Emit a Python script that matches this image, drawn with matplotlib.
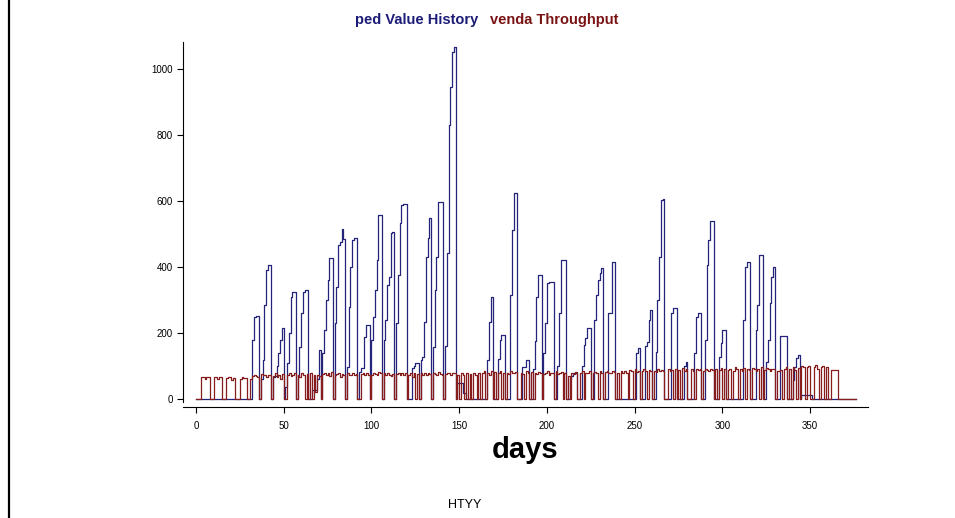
import numpy as np
import matplotlib
matplotlib.use("Agg")
import matplotlib.pyplot as plt
from matplotlib.lines import Line2D

# ---- data (daily values) ----
lead_days_ped = [0, 0]
lead_days_venda = [0, 0]

# each row = one week (7 days), starting at day 2
ped_weeks = [
    [0, 0, 0, 0, 0, 0, 0],
    [0, 0, 0, 0, 0, 0, 0],
    [0, 0, 0, 0, 0, 0, 0],
    [0, 0, 0, 0, 0, 0, 0],
    [0, 0, 180, 250, 252, 252, 0],
    [60, 118, 285, 391, 406, 406, 0],
    [68, 70, 100, 139, 180, 215, 0],
    [37, 109, 200, 310, 325, 325, 0],
    [73, 158, 260, 325, 330, 330, 0],
    [0, 27, 27, 27, 60, 150, 0],
    [139, 209, 300, 360, 427, 427, 0],
    [230, 340, 467, 477, 515, 485, 0],
    [98, 280, 400, 482, 487, 487, 0],
    [83, 94, 94, 189, 224, 224, 0],
    [179, 250, 330, 421, 558, 558, 0],
    [179, 239, 345, 371, 503, 507, 0],
    [230, 376, 533, 588, 590, 590, 0],
    [0, 0, 94, 100, 109, 109, 0],
    [118, 128, 234, 430, 487, 548, 0],
    [158, 330, 430, 597, 597, 597, 0],
    [160, 442, 830, 946, 1052, 1067, 0],
    [48, 48, 48, 18, 18, 0, 0],
    [0, 0, 0, 0, 0, 0, 0],
    [0, 0, 0, 118, 234, 310, 0],
    [0, 0, 120, 179, 194, 194, 0],
    [0, 0, 315, 512, 623, 623, 0],
    [0, 0, 98, 98, 118, 118, 0],
    [0, 90, 176, 310, 376, 376, 0],
    [139, 230, 351, 355, 355, 355, 0],
    [0, 100, 260, 421, 421, 421, 0],
    [0, 60, 70, 80, 80, 0, 0],
    [0, 100, 165, 185, 215, 215, 0],
    [0, 239, 315, 360, 382, 397, 0],
    [0, 0, 260, 260, 416, 416, 0],
    [0, 0, 0, 0, 0, 0, 0],
    [0, 0, 0, 0, 139, 155, 0],
    [0, 0, 160, 172, 240, 270, 0],
    [0, 143, 300, 431, 603, 606, 0],
    [0, 0, 0, 260, 275, 275, 0],
    [0, 0, 0, 100, 112, 0, 0],
    [0, 0, 140, 250, 260, 260, 0],
    [0, 178, 405, 481, 541, 541, 0],
    [0, 0, 127, 170, 209, 209, 0],
    [0, 0, 0, 0, 0, 0, 0],
    [0, 0, 240, 400, 415, 415, 0],
    [0, 0, 209, 285, 436, 436, 0],
    [0, 112, 178, 290, 370, 400, 0],
    [0, 0, 190, 190, 190, 190, 0],
    [0, 0, 58, 97, 124, 133, 0],
    [12, 12, 12, 12, 12, 12, 0],
    [0, 0, 0, 0, 0, 0, 0],
    [0, 0, 0, 0, 0, 0, 0],
    [0, 0, 0, 0, 0, 0, 0],
]

venda_weeks = [
    [0, 66, 66, 62, 66, 66, 0],
    [0, 66, 68, 62, 66, 66, 0],
    [0, 64, 66, 66, 58, 64, 0],
    [0, 0, 62, 66, 64, 64, 0],
    [0, 62, 70, 72, 70, 68, 0],
    [75, 72, 74, 68, 72, 74, 0],
    [70, 78, 66, 74, 60, 76, 0],
    [0, 72, 80, 70, 74, 78, 0],
    [74, 66, 78, 72, 0, 76, 0],
    [80, 0, 72, 20, 74, 70, 0],
    [76, 80, 72, 78, 70, 82, 0],
    [72, 76, 80, 68, 76, 74, 0],
    [80, 74, 72, 78, 74, 76, 0],
    [0, 76, 80, 72, 78, 72, 0],
    [74, 80, 76, 72, 82, 78, 0],
    [78, 72, 80, 74, 70, 76, 0],
    [76, 80, 72, 80, 74, 78, 0],
    [74, 78, 66, 80, 0, 76, 0],
    [78, 74, 80, 72, 80, 76, 0],
    [80, 76, 72, 82, 76, 74, 0],
    [76, 78, 80, 72, 78, 80, 0],
    [72, 0, 78, 74, 0, 78, 0],
    [76, 0, 80, 72, 0, 80, 0],
    [78, 86, 0, 80, 74, 84, 0],
    [82, 0, 80, 86, 0, 78, 0],
    [80, 76, 84, 78, 80, 82, 0],
    [0, 80, 76, 0, 84, 78, 0],
    [82, 0, 78, 76, 82, 80, 0],
    [76, 80, 84, 72, 80, 78, 0],
    [84, 76, 80, 82, 0, 78, 0],
    [70, 0, 80, 76, 82, 0, 0],
    [80, 84, 0, 78, 80, 86, 0],
    [78, 82, 80, 0, 84, 80, 0],
    [82, 86, 78, 80, 84, 82, 0],
    [80, 0, 84, 78, 86, 80, 0],
    [88, 84, 0, 90, 82, 86, 0],
    [84, 90, 86, 0, 88, 84, 0],
    [86, 82, 90, 84, 88, 86, 0],
    [0, 90, 84, 88, 0, 92, 0],
    [88, 0, 94, 86, 90, 0, 0],
    [90, 86, 0, 92, 88, 90, 0],
    [86, 92, 88, 84, 90, 88, 0],
    [92, 0, 88, 94, 0, 90, 0],
    [88, 92, 0, 86, 96, 90, 0],
    [90, 86, 94, 0, 92, 88, 0],
    [94, 90, 86, 92, 0, 96, 0],
    [88, 94, 90, 86, 92, 90, 0],
    [86, 84, 88, 0, 92, 98, 0],
    [90, 0, 96, 88, 0, 94, 0],
    [100, 96, 0, 98, 100, 0, 0],
    [96, 102, 92, 0, 98, 100, 0],
    [96, 0, 0, 88, 88, 88, 88],
    [0, 0, 0, 0, 0, 0, 0],
]

tail_days = 4  # flat zero tail after the last week

ped = np.array(lead_days_ped + [v for w in ped_weeks for v in w] + [0] * tail_days, float)
venda = np.array(lead_days_venda + [v for w in venda_weeks for v in w] + [0] * tail_days, float)
days = np.arange(len(ped))

# ---- figure ----
plt.rcParams['font.family'] = ['Liberation Sans', 'DejaVu Sans']
fig = plt.figure(figsize=(9.55, 5.18), dpi=100)
ax = fig.add_axes([0.1916, 0.2143, 0.9089 - 0.1916, 0.9189 - 0.2143])

blue = '#24247a'
red = '#861c1c'
ax.step(days, ped, where='post', color=blue, lw=0.9)
ax.step(days, venda, where='post', color=red, lw=0.9)

ax.set_xlim(-7.4, 383)
ax.set_ylim(-24, 1082)
ax.set_xticks([0, 50, 100, 150, 200, 250, 300, 350])
ax.set_yticks([0, 200, 400, 600, 800, 1000])
ax.spines['top'].set_visible(False)
ax.spines['right'].set_visible(False)
ax.spines['left'].set_bounds(-10, 1082)
ax.tick_params(axis='both', labelsize=7, length=4, width=0.8, colors='black')
ax.tick_params(axis='x', pad=6)
ax.set_xlabel('days', fontsize=21, fontweight='bold', labelpad=4)

fig.text(0.5005, 0.962, 'ped Value History', color='#1c1c78', fontsize=10.5,
         fontweight='bold', ha='right', va='center')
fig.text(0.513, 0.962, 'venda Throughput', color='#7a1414', fontsize=10.5,
         fontweight='bold', ha='left', va='center')
fig.text(0.487, 0.025, 'HTYY', fontsize=9, ha='center', va='center')

fig.add_artist(Line2D([8.5 / 955, 8.5 / 955], [0, 1], transform=fig.transFigure,
                      color='black', lw=1.6))

fig.savefig('out.png', dpi=100)
